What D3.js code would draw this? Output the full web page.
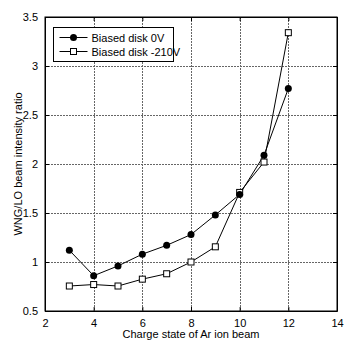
<!DOCTYPE html>
<html>
<head>
<meta charset="utf-8">
<script src="https://cdn.jsdelivr.net/npm/d3@7"></script>
<style>
  body { margin: 0; background: #fff; }
  text { font-family: "Liberation Sans", Arial, sans-serif; fill: #000; }
  .grid line { stroke: #666; stroke-dasharray: 2,1; }
</style>
</head>
<body>
<div id="chart"></div>
<script>
var chargeStates = [3, 4, 5, 6, 7, 8, 9, 10, 11, 12];
var disk0V = [1.12, 0.86, 0.96, 1.08, 1.17, 1.28, 1.48, 1.69, 2.09, 2.77];
var disk210V = [0.755, 0.77, 0.755, 0.825, 0.88, 1.0, 1.155, 1.71, 2.02, 3.34];
var xTicks = [2, 4, 6, 8, 10, 12, 14];
var yTicks = [0.5, 1, 1.5, 2, 2.5, 3, 3.5];
var seriesNames = ["Biased disk 0V", "Biased disk -210V"];

var W = 354, H = 345;
var margin = {top: 17, right: 17, bottom: 34, left: 45};
var width = W - margin.left - margin.right;
var height = H - margin.top - margin.bottom;

var svg = d3.select("#chart").append("svg")
  .attr("width", W).attr("height", H);
var g = svg.append("g")
  .attr("transform", "translate(" + margin.left + "," + margin.top + ")");

var x = d3.scaleLinear().domain([2, 14]).range([0, width]);
var y = d3.scaleLinear().domain([0.5, 3.5]).range([height, 0]);

// grid
g.append("g").attr("class", "grid")
  .selectAll("line").data(xTicks.slice(1, -1)).enter().append("line")
  .attr("x1", d => Math.round(x(d)) + 0.5).attr("x2", d => Math.round(x(d)) + 0.5)
  .attr("y1", 0).attr("y2", height);
g.append("g").attr("class", "grid")
  .selectAll("line").data(yTicks.slice(1, -1)).enter().append("line")
  .attr("y1", d => Math.round(y(d)) + 0.5).attr("y2", d => Math.round(y(d)) + 0.5)
  .attr("x1", 0).attr("x2", width);

// axes
g.append("g")
  .attr("transform", "translate(0," + height + ")")
  .call(d3.axisBottom(x).tickValues(xTicks).tickSizeInner(-4).tickSizeOuter(0).tickPadding(8));
g.append("g")
  .call(d3.axisLeft(y).tickValues(yTicks).tickFormat(d3.format("")).tickSizeInner(-4).tickSizeOuter(0).tickPadding(7));
g.append("g")
  .call(d3.axisTop(x).tickValues(xTicks).tickSizeInner(-4).tickSizeOuter(0).tickFormat(""));
g.append("g")
  .attr("transform", "translate(" + width + ",0)")
  .call(d3.axisRight(y).tickValues(yTicks).tickSizeInner(-4).tickSizeOuter(0).tickFormat(""));
g.selectAll(".domain").attr("stroke", "#000");
g.selectAll(".tick line").attr("stroke", "#000");
g.selectAll(".tick text").style("font-size", "11px");

g.append("rect")
  .attr("width", width).attr("height", height)
  .attr("fill", "none").attr("stroke", "#000");

// axis titles
svg.append("text")
  .attr("x", margin.left + width / 2).attr("y", 338)
  .attr("text-anchor", "middle").style("font-size", "11px")
  .text("Charge state of Ar ion beam");
svg.append("text")
  .attr("transform", "translate(22," + (margin.top + height / 2) + ") rotate(-90)")
  .attr("text-anchor", "middle").style("font-size", "11px")
  .text("WNG/LO beam intensity ratio");

var line = d3.line().x(d => x(d[0])).y(d => y(d[1]));
var s0 = chargeStates.map((c, i) => [c, disk0V[i]]);
var s1 = chargeStates.map((c, i) => [c, disk210V[i]]);

g.append("path").datum(s1).attr("d", line)
  .attr("fill", "none").attr("stroke", "#000").attr("stroke-width", 1);
g.append("path").datum(s0).attr("d", line)
  .attr("fill", "none").attr("stroke", "#000").attr("stroke-width", 1);

g.selectAll(".sq").data(s1).enter().append("rect")
  .attr("x", d => x(d[0]) - 3).attr("y", d => y(d[1]) - 3)
  .attr("width", 6).attr("height", 6)
  .attr("fill", "#fff").attr("stroke", "#000");
g.selectAll(".dot").data(s0).enter().append("circle")
  .attr("cx", d => x(d[0])).attr("cy", d => y(d[1]))
  .attr("r", 3.5).attr("fill", "#000");

// legend
var leg = svg.append("g").attr("transform", "translate(53.5,27.5)");
leg.append("rect").attr("width", 120).attr("height", 34)
  .attr("fill", "#fff").attr("stroke", "#000");
seriesNames.forEach(function(name, i) {
  var ly = 10 + i * 14;
  leg.append("line").attr("x1", 6).attr("x2", 34).attr("y1", ly).attr("y2", ly)
    .attr("stroke", "#000");
  if (i === 0) {
    leg.append("circle").attr("cx", 20).attr("cy", ly).attr("r", 3.5).attr("fill", "#000");
  } else {
    leg.append("rect").attr("x", 17).attr("y", ly - 3).attr("width", 6).attr("height", 6)
      .attr("fill", "#fff").attr("stroke", "#000");
  }
  leg.append("text").attr("x", 38).attr("y", ly + 4)
    .style("font-size", "11px").text(name);
});
</script>
</body>
</html>
